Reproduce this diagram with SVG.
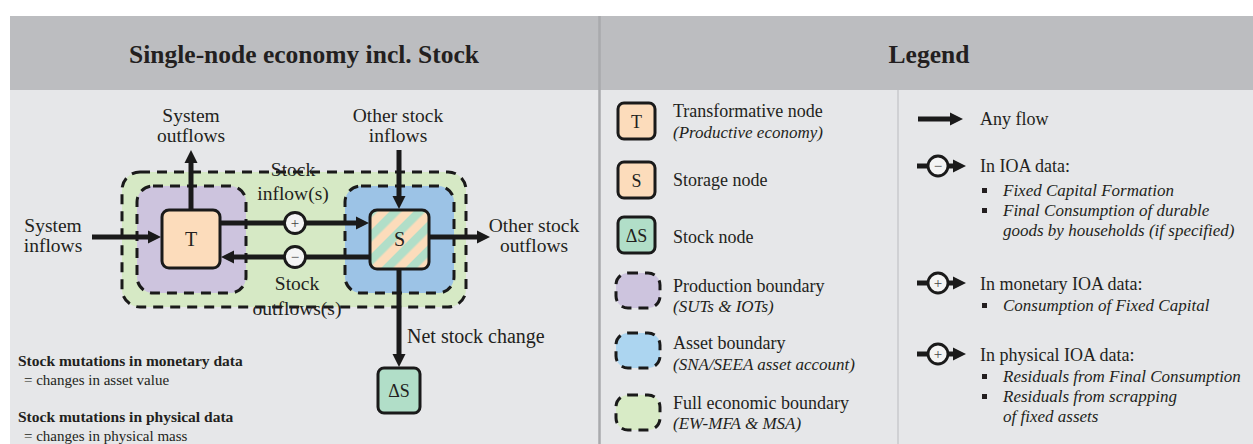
<svg xmlns="http://www.w3.org/2000/svg" width="1253" height="444" viewBox="0 0 1253 444">
  <style>
    text { font-family: "Liberation Serif", "Times New Roman", serif; fill: #231f20; }
    .title { font-size: 25.5px; font-weight: bold; text-anchor: middle; }
    .lbl { font-size: 19.5px; text-anchor: middle; }
    .lbl-l { font-size: 20px; }
    .node { font-size: 20px; text-anchor: middle; }
    .lnode { font-size: 18px; text-anchor: middle; }
    .leg { font-size: 18px; }
    .legi { font-size: 17px; font-style: italic; }
    .note { font-size: 15.5px; font-weight: bold; }
    .notes { font-size: 15px; }
    .sign { font-size: 15px; text-anchor: middle; fill: #444; }
    .box { stroke: #1a1a1a; stroke-width: 3; }
    .dash { stroke: #1a1a1a; stroke-width: 3; stroke-dasharray: 10 7; }
    .flow { stroke: #1a1a1a; stroke-width: 5; fill: none; marker-end: url(#ah); }
    .flowp { stroke: #1a1a1a; stroke-width: 5; fill: none; }
    .circ { fill: #f4f4f4; stroke: #1a1a1a; stroke-width: 2.8; }
    .bullet { fill: #231f20; }
  </style>
  <defs>
    <marker id="ah" viewBox="0 -7 14 14" refX="7" refY="0" markerWidth="14" markerHeight="14" markerUnits="userSpaceOnUse" orient="auto">
      <path d="M0,-6.5 L13,0 L0,6.5 z" fill="#1a1a1a"/>
    </marker>
    <pattern id="stripes" patternUnits="userSpaceOnUse" width="17" height="17" patternTransform="rotate(45)">
      <rect x="0" y="0" width="17" height="17" fill="#fcdcbb"/>
      <rect x="0" y="0" width="8.5" height="17" fill="#b1dec8"/>
    </pattern>
  </defs>

  <!-- panels -->
  <g id="panels">
    <rect x="10" y="16" width="1243" height="74" fill="#bcbdc0"/>
    <rect x="10" y="90" width="1243" height="354" fill="#e6e7e9"/>
    <line x1="599.5" y1="16" x2="599.5" y2="444" stroke="#a9aaad" stroke-width="2.5"/>
    <line x1="898" y1="90" x2="898" y2="444" stroke="#d0d1d4" stroke-width="2"/>
    <text class="title" x="304" y="63">Single-node economy incl. Stock</text>
    <text class="title" x="929" y="63">Legend</text>
  </g>

  <!-- boundaries -->
  <g id="full-economic-boundary">
    <rect x="122" y="172" width="344" height="135" rx="18" fill="#d6e9c5" class="dash"/>
  </g>
  <g id="production-boundary">
    <rect x="137" y="186" width="109" height="107" rx="16" fill="#cdc4de" class="dash"/>
  </g>
  <g id="asset-boundary">
    <rect x="345" y="186" width="109" height="107" rx="16" fill="#9cc3e6" class="dash"/>
  </g>

  <!-- connectors -->
  <g id="connectors">
    <line class="flow" x1="92" y1="237" x2="155" y2="237"/>
    <line class="flow" x1="191" y1="210" x2="191" y2="156"/>
    <line class="flow" x1="399" y1="150" x2="399" y2="203"/>
    <line class="flow" x1="220" y1="223" x2="363" y2="223"/>
    <line class="flow" x1="369" y1="257" x2="227" y2="257"/>
    <line class="flow" x1="429" y1="237" x2="484" y2="237"/>
    <line class="flow" x1="399" y1="269" x2="399" y2="361"/>
    <circle class="circ" cx="295" cy="223" r="10.5"/>
    <text class="sign" x="295" y="228">+</text>
    <circle class="circ" cx="295" cy="257" r="10.5"/>
    <text class="sign" x="295" y="262">−</text>
  </g>

  <!-- nodes -->
  <g id="node-T">
    <rect x="162" y="210" width="58" height="58" rx="7" fill="#fcdcbb" class="box"/>
    <text class="node" x="191" y="246">T</text>
  </g>
  <g id="node-S">
    <rect x="370" y="210" width="59" height="59" rx="7" fill="url(#stripes)" class="box"/>
    <text class="node" x="399.5" y="246">S</text>
  </g>
  <g id="node-dS">
    <rect x="378" y="368" width="42" height="45" rx="6" fill="#b1dec8" class="box"/>
    <text class="lnode" x="399" y="397">ΔS</text>
  </g>

  <!-- flow labels -->
  <g id="labels">
    <text class="lbl" x="191" y="122">System</text>
    <text class="lbl" x="191" y="142">outflows</text>
    <text class="lbl" x="398" y="122">Other stock</text>
    <text class="lbl" x="398" y="142">inflows</text>
    <text class="lbl" x="293" y="176">Stock</text>
    <text class="lbl" x="293" y="200">inflow(s)</text>
    <text class="lbl" x="53" y="232">System</text>
    <text class="lbl" x="53" y="252">inflows</text>
    <text class="lbl" x="534" y="232">Other stock</text>
    <text class="lbl" x="534" y="252">outflows</text>
    <text class="lbl" x="297" y="290">Stock</text>
    <text class="lbl" x="297" y="315">outflows(s)</text>
    <text class="lbl-l" x="407" y="343">Net stock change</text>
    <text class="note" x="18" y="366">Stock mutations in monetary data</text>
    <text class="notes" x="24" y="385">= changes in asset value</text>
    <text class="note" x="18" y="422">Stock mutations in physical data</text>
    <text class="notes" x="24" y="441">= changes in physical mass</text>
  </g>

  <!-- legend: nodes and boundaries -->
  <g id="legend-T">
    <rect x="618" y="103" width="37" height="36" rx="6" fill="#fcdcbb" class="box"/>
    <text class="lnode" x="636.5" y="127.5">T</text>
    <text class="leg" x="673" y="117">Transformative node</text>
    <text class="legi" x="673" y="138">(Productive economy)</text>
  </g>
  <g id="legend-S">
    <rect x="618" y="162" width="37" height="36" rx="6" fill="#fcdcbb" class="box"/>
    <text class="lnode" x="636.5" y="186.5">S</text>
    <text class="leg" x="673" y="186">Storage node</text>
  </g>
  <g id="legend-dS">
    <rect x="618" y="217" width="37" height="36" rx="6" fill="#b1dec8" class="box"/>
    <text class="lnode" x="636.5" y="241.5">ΔS</text>
    <text class="leg" x="673" y="243">Stock node</text>
  </g>
  <g id="legend-production">
    <rect x="616" y="273" width="44" height="35" rx="12" fill="#cdc4de" class="dash"/>
    <text class="leg" x="673" y="292">Production boundary</text>
    <text class="legi" x="673" y="312">(SUTs &amp; IOTs)</text>
  </g>
  <g id="legend-asset">
    <rect x="616" y="333" width="44" height="35" rx="12" fill="#acd5f0" class="dash"/>
    <text class="leg" x="673" y="349">Asset boundary</text>
    <text class="legi" x="673" y="370">(SNA/SEEA asset account)</text>
  </g>
  <g id="legend-full">
    <rect x="616" y="395" width="44" height="35" rx="12" fill="#d8ebc6" class="dash"/>
    <text class="leg" x="673" y="409">Full economic boundary</text>
    <text class="legi" x="673" y="429">(EW-MFA &amp; MSA)</text>
  </g>

  <!-- legend: flows -->
  <g id="legend-anyflow">
    <line class="flow" x1="918" y1="119" x2="957" y2="119"/>
    <text class="leg" x="980" y="125">Any flow</text>
  </g>
  <g id="legend-minus">
    <line class="flowp" x1="917" y1="166" x2="930" y2="166"/>
    <line class="flow" x1="946" y1="166" x2="960" y2="166"/>
    <circle class="circ" cx="938" cy="166" r="10"/>
    <text class="sign" x="938" y="171">−</text>
    <text class="leg" x="980" y="172">In IOA data:</text>
    <rect class="bullet" x="982" y="188" width="5" height="5"/>
    <text class="legi" x="1003" y="196">Fixed Capital Formation</text>
    <rect class="bullet" x="982" y="208" width="5" height="5"/>
    <text class="legi" x="1003" y="216">Final Consumption of durable</text>
    <text class="legi" x="1003" y="236">goods by households (if specified)</text>
  </g>
  <g id="legend-plus-monetary">
    <line class="flowp" x1="917" y1="283" x2="930" y2="283"/>
    <line class="flow" x1="946" y1="283" x2="960" y2="283"/>
    <circle class="circ" cx="938" cy="283" r="10"/>
    <text class="sign" x="938" y="288">+</text>
    <text class="leg" x="980" y="290">In monetary IOA data:</text>
    <rect class="bullet" x="982" y="303" width="5" height="5"/>
    <text class="legi" x="1003" y="311">Consumption of Fixed Capital</text>
  </g>
  <g id="legend-plus-physical">
    <line class="flowp" x1="917" y1="354" x2="930" y2="354"/>
    <line class="flow" x1="946" y1="354" x2="960" y2="354"/>
    <circle class="circ" cx="938" cy="354" r="10"/>
    <text class="sign" x="938" y="359">+</text>
    <text class="leg" x="980" y="361">In physical IOA data:</text>
    <rect class="bullet" x="982" y="374" width="5" height="5"/>
    <text class="legi" x="1003" y="382">Residuals from Final Consumption</text>
    <rect class="bullet" x="982" y="394" width="5" height="5"/>
    <text class="legi" x="1003" y="402">Residuals from scrapping</text>
    <text class="legi" x="1003" y="422">of fixed assets</text>
  </g>
</svg>
